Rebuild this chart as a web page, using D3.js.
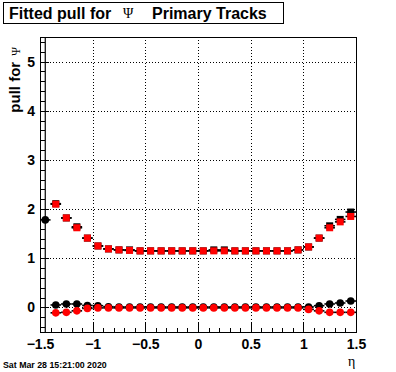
<!DOCTYPE html>
<html>
<head>
<meta charset="utf-8">
<script src="https://cdn.jsdelivr.net/npm/d3@7"></script>
<style>
  html, body { margin: 0; padding: 0; background: #fff; }
  svg { display: block; }
</style>
</head>
<body>
<svg id="chart" width="396" height="372"></svg>
<script>
// ---- data ----
const etaBins = [-1.45, -1.35, -1.25, -1.15, -1.05, -0.95, -0.85, -0.75, -0.65, -0.55,
                 -0.45, -0.35, -0.25, -0.15, -0.05, 0.05, 0.15, 0.25, 0.35, 0.45,
                 0.55, 0.65, 0.75, 0.85, 0.95, 1.05, 1.15, 1.25, 1.35, 1.45];
const binHalfWidth = 0.05;

// black circles (mean, set 1)
const meanBlack = [1.78, 0.05, 0.07, 0.07, 0.04, 0.035, 0.015, 0.01, 0.01, 0.01,
                   0.01, 0.01, 0.01, 0.01, 0.01, 0.01, 0.01, 0.01, 0.01, 0.01,
                   0.01, 0.01, 0.01, 0.01, 0.01, 0.01, 0.035, 0.07, 0.09, 0.13];
const meanBlackErr = [10, 0.02, 0.02, 0.02, 0.02, 0.02, 0.02, 0.02, 0.02, 0.02,
                      0.02, 0.02, 0.02, 0.02, 0.02, 0.02, 0.02, 0.02, 0.02, 0.02,
                      0.02, 0.02, 0.02, 0.02, 0.02, 0.02, 0.02, 0.02, 0.02, 0.02];
// red circles (mean, set 2)
const meanRed = [null, -0.11, -0.10, -0.07, -0.02, -0.01, -0.01, -0.01, -0.01, -0.01,
                 -0.01, -0.01, -0.01, -0.01, -0.01, -0.01, -0.01, -0.01, -0.01, -0.01,
                 -0.01, -0.01, -0.01, -0.01, -0.01, -0.04, -0.07, -0.10, -0.10, -0.10];
// black squares (sigma, set 1)
const sigmaBlack = [null, 2.11, 1.82, 1.64, 1.41, 1.25, 1.19, 1.17, 1.17, 1.15,
                    1.15, 1.15, 1.15, 1.15, 1.15, 1.15, 1.17, 1.17, 1.15, 1.15,
                    1.15, 1.15, 1.15, 1.15, 1.17, 1.23, 1.41, 1.66, 1.79, 1.94];
// red squares (sigma, set 2)
const sigmaRed = [null, 2.10, 1.82, 1.62, 1.41, 1.25, 1.19, 1.17, 1.16, 1.15,
                  1.15, 1.15, 1.15, 1.15, 1.15, 1.15, 1.15, 1.15, 1.15, 1.15,
                  1.15, 1.15, 1.15, 1.15, 1.17, 1.23, 1.41, 1.62, 1.74, 1.85];
const smallErr = 0.02;

const xTickValues = [-1.5, -1, -0.5, 0, 0.5, 1, 1.5];
const xTickLabels = ["\u22121.5", "\u22121", "\u22120.5", "0", "0.5", "1", "1.5"];
const yTickValues = [0, 1, 2, 3, 4, 5];
const yTickLabels = ["0", "1", "2", "3", "4", "5"];
const xGridValues = [-1, -0.5, 0, 0.5, 1];
const yGridValues = [0, 1, 2, 3, 4, 5];

const titleParts = ["Fitted pull for", "\u03A8", "Primary Tracks"];
const yTitle = ["pull for", "\u03A8"];
const xTitle = "\u03B7";
const dateText = "Sat Mar 28 15:21:00 2020";

// ---- layout ----
const L = 40, R = 356, T = 37, B = 332;
const svg = d3.select("#chart");
const x = d3.scaleLinear().domain([-1.5, 1.5]).range([L, R]);
const y = d3.scaleLinear().domain([-0.5, 5.5]).range([B, T]);

svg.append("defs").append("clipPath").attr("id", "frameclip")
  .append("rect").attr("x", L).attr("y", T).attr("width", R - L).attr("height", B - T);

// grid
const grid = svg.append("g").attr("stroke", "#000").attr("stroke-width", 1)
  .attr("stroke-dasharray", "1,2.2").attr("shape-rendering", "crispEdges");
grid.selectAll("line.gx").data(xGridValues).join("line")
  .attr("x1", d => Math.round(x(d)) + 0.5).attr("x2", d => Math.round(x(d)) + 0.5)
  .attr("y1", T).attr("y2", B);
grid.selectAll("line.gy").data(yGridValues).join("line")
  .attr("y1", d => Math.round(y(d)) + 0.5).attr("y2", d => Math.round(y(d)) + 0.5)
  .attr("x1", L).attr("x2", R);

// axes ticks
const fontTick = "bold 14px 'Liberation Sans', Arial, sans-serif";
const xMinor = d3.range(-1.5, 1.5001, 0.1);
const yMinor = d3.range(-0.4, 5.4001, 0.2);

const xMinorAxis = svg.append("g").attr("transform", `translate(0,${B})`)
  .call(d3.axisBottom(x).tickValues(xMinor).tickSizeInner(-4.5).tickSizeOuter(0).tickFormat(""));
const xAxis = svg.append("g").attr("transform", `translate(0,${B})`)
  .call(d3.axisBottom(x).tickValues(xTickValues).tickSizeInner(-9).tickSizeOuter(0)
    .tickPadding(7).tickFormat((d, i) => xTickLabels[i]));
const yMinorAxis = svg.append("g").attr("transform", `translate(${L},0)`)
  .call(d3.axisLeft(y).tickValues(yMinor).tickSizeInner(-4.5).tickSizeOuter(0).tickFormat(""));
const yAxis = svg.append("g").attr("transform", `translate(${L},0)`)
  .call(d3.axisLeft(y).tickValues(yTickValues).tickSizeInner(-9).tickSizeOuter(0)
    .tickPadding(5).tickFormat((d, i) => yTickLabels[i]));
[xMinorAxis, xAxis, yMinorAxis, yAxis].forEach(g => {
  g.select(".domain").remove();
  g.selectAll("line").attr("stroke", "#000").attr("stroke-width", 1).attr("shape-rendering", "crispEdges");
  g.selectAll("text").style("font", fontTick).attr("fill", "#000");
});
xAxis.selectAll("text").attr("dy", "0.71em");

// frame
svg.append("rect").attr("x", L + 0.5).attr("y", T + 0.5).attr("width", R - L).attr("height", B - T)
  .attr("fill", "none").attr("stroke", "#000").attr("stroke-width", 1);

// data
const plot = svg.append("g").attr("clip-path", "url(#frameclip)");
function drawSeries(values, errs, color, shape) {
  const pts = etaBins.map((e, i) => ({ e, v: values[i], err: errs ? errs[i] : smallErr }))
    .filter(d => d.v !== null);
  const g = plot.append("g");
  g.selectAll("line.h").data(pts).join("line")
    .attr("x1", d => x(d.e - binHalfWidth)).attr("x2", d => x(d.e + binHalfWidth))
    .attr("y1", d => y(d.v)).attr("y2", d => y(d.v))
    .attr("stroke", "#000").attr("stroke-width", 1.6);
  g.selectAll("line.v").data(pts).join("line")
    .attr("x1", d => x(d.e)).attr("x2", d => x(d.e))
    .attr("y1", d => y(d.v - d.err)).attr("y2", d => y(d.v + d.err))
    .attr("stroke", "#000").attr("stroke-width", 1.2);
  if (shape === "circle") {
    g.selectAll("circle").data(pts).join("circle")
      .attr("cx", d => x(d.e)).attr("cy", d => y(d.v)).attr("r", 3.8).attr("fill", color);
  } else {
    const s = 7;
    g.selectAll("rect").data(pts).join("rect")
      .attr("x", d => x(d.e) - s / 2).attr("y", d => y(d.v) - s / 2)
      .attr("width", s).attr("height", s).attr("fill", color);
  }
}
drawSeries(sigmaBlack, null, "#000", "square");
drawSeries(sigmaRed, null, "#ff0000", "square");
drawSeries(meanBlack, meanBlackErr, "#000", "circle");
drawSeries(meanRed, null, "#ff0000", "circle");

// title box
svg.append("rect").attr("x", 3.5).attr("y", 2.5).attr("width", 280).attr("height", 21)
  .attr("fill", "#fff").attr("stroke", "#000").attr("stroke-width", 1);
const tfont = "bold 16px 'Liberation Sans', Arial, sans-serif";
svg.append("text").attr("x", 9).attr("y", 19).style("font", tfont).text(titleParts[0]);
svg.append("text").attr("x", 123).attr("y", 18).style("font", "14px 'Liberation Serif', 'Times New Roman', serif").text(titleParts[1]);
svg.append("text").attr("x", 152).attr("y", 19).style("font", tfont).text(titleParts[2]);

// y title
const yt = svg.append("text").attr("transform", "translate(20,47) rotate(-90)")
  .attr("text-anchor", "end");
yt.append("tspan").style("font", "bold 15px 'Liberation Sans', Arial, sans-serif").text(yTitle[0]);
yt.append("tspan").attr("dx", 6).style("font", "12px 'Liberation Serif', 'Times New Roman', serif").text(yTitle[1]);

// x title
svg.append("text").attr("x", 348).attr("y", 366)
  .style("font", "14px 'Liberation Serif', 'Times New Roman', serif").text(xTitle);

// date
svg.append("text").attr("x", 3).attr("y", 368)
  .style("font", "bold 8.8px 'Liberation Sans', Arial, sans-serif").text(dateText);
</script>
</body>
</html>
